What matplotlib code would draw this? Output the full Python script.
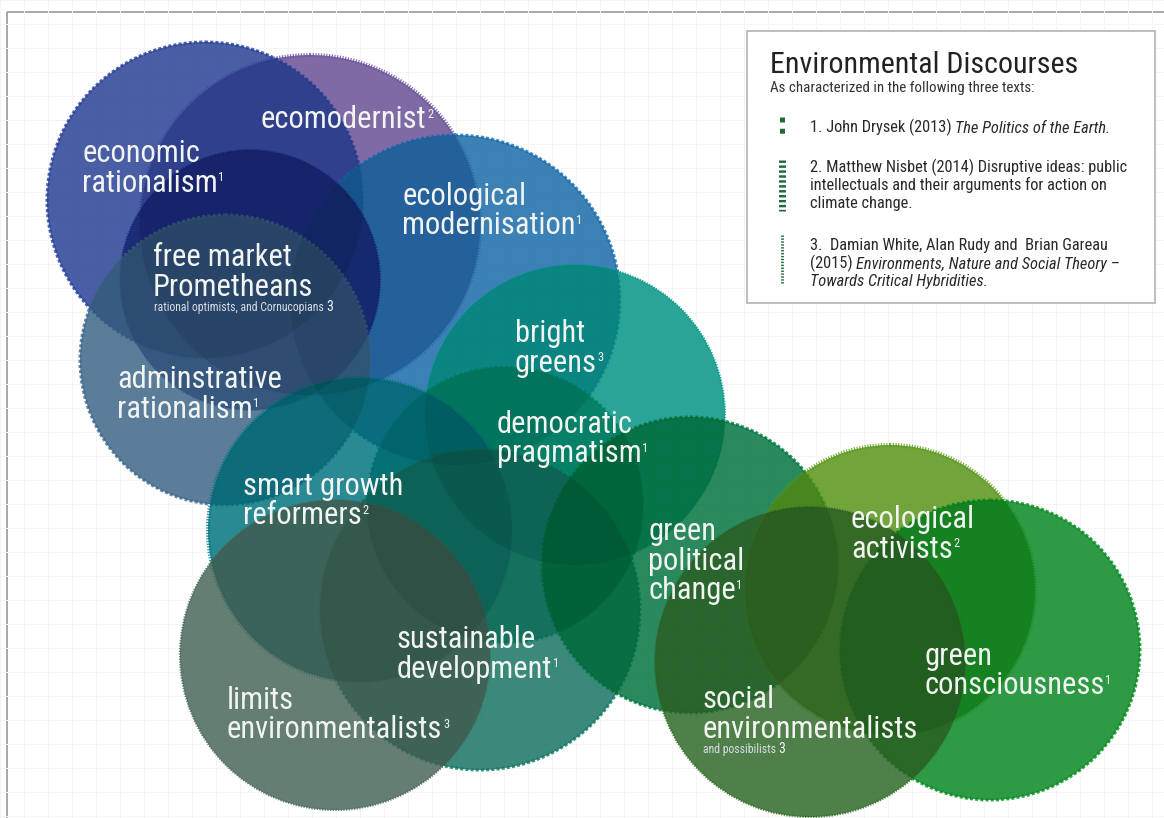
import numpy as np
import matplotlib
matplotlib.use("Agg")
import matplotlib.pyplot as plt
from matplotlib import font_manager
from matplotlib.patches import Circle, Rectangle
from matplotlib.colors import to_rgb

# discourses, drawn in this order (later ones sit on top)
discourses = ["ecomodernist", "economic rationalism", "ecological modernisation",
              "free market Prometheans", "adminstrative rationalism", "bright greens",
              "democratic pragmatism", "smart growth reformers", "sustainable development",
              "limits environmentalists", "green political change", "ecological activists",
              "green consciousness", "social environmentalists"]
source = [2, 1, 1, 3, 1, 3, 1, 2, 1, 3, 1, 2, 1, 3]
circle_x = [310, 205, 455, 250, 225, 575, 505, 360, 480, 335, 690, 890, 990, 810]
circle_y = [225, 200, 300, 280, 360, 415, 505, 530, 610, 655, 565, 590, 650, 662]
circle_r = [170, 158, 165, 130, 145, 150, 138, 152, 160, 155, 148, 145, 150, 155]

label_lines = [["ecomodernist"], ["economic", "rationalism"], ["ecological", "modernisation"],
               ["free market", "Prometheans"], ["adminstrative", "rationalism"], ["bright", "greens"],
               ["democratic", "pragmatism"], ["smart growth", "reformers"],
               ["sustainable", "development"], ["limits", "environmentalists"],
               ["green", "political", "change"], ["ecological", "activists"],
               ["green", "consciousness"], ["social", "environmentalists"]]
label_x = [261, 82, 402, 153, 117, 515, 497, 243, 397, 227, 648, 851, 924, 702]
label_y = [128, 162, 205, 266, 388, 342, 433, 495, 648, 709, 540, 528, 665, 708]
sub_notes = {3: "rational optimists, and Cornucopians", 13: "and possibilists"}

sources_text = [
    [("1. John Drysek (2013) ", "The Politics of the Earth.")],
    [("2. Matthew Nisbet (2014) Disruptive ideas: public", ""),
     ("intellectuals and their arguments for action on", ""),
     ("climate change.", "")],
    [("3.  Damian White, Alan Rudy and  Brian Gareau", ""),
     ("(2015) ", "Environments, Nature and Social Theory \u2013"),
     ("", "Towards Critical Hybridities.")],
]

# styles
colors = ["#7f6ba7", "#4a5ea6", "#3c82b6", "#3d4a8e", "#5b7d9b", "#1aa596", "#169a80",
          "#2a8a93", "#3a897b", "#657e73", "#238a5e", "#72a53c", "#2f9b45", "#50804a"]
edge_styles = {1: dict(lw=2.2, ls=(0, (1.0, 0.7))),
               2: dict(lw=3.0, ls=(0, (0.3, 0.35))),
               3: dict(lw=1.6, ls=(0, (0.6, 0.6)))}
fill_alpha = 0.82
shade_alpha = 0.08

avail = {f.name for f in font_manager.fontManager.ttflist}
font = "DejaVu Sans"
for cand in ["Roboto Condensed", "Liberation Sans Narrow", "Roboto"]:
    if cand in avail:
        font = cand
        break
plt.rcParams["font.family"] = [font, "DejaVu Sans"]


def base_color(hexc):
    t = np.array(to_rgb(hexc))
    c = (t / (1 - shade_alpha) - (1 - fill_alpha)) / fill_alpha
    return tuple(np.clip(c, 0, 1))


fig = plt.figure(figsize=(11.64, 8.18), dpi=100)
ax = fig.add_axes([0, 0, 1, 1])
ax.set_xlim(0, 1164)
ax.set_ylim(818, 0)
ax.set_xticks(np.arange(0, 1164, 24))
ax.set_yticks(np.arange(0, 818, 24))
ax.tick_params(length=0, labelbottom=False, labelleft=False)
ax.grid(color="#f5f5f5", lw=0.7)
for s in ax.spines.values():
    s.set_visible(False)

ax.add_patch(Rectangle((7, 12), 1300, 900, fill=False, ec="#a0a0a0", lw=1.3, zorder=1))

# filled circles with their serrated outline (pattern = source text)
for i in range(len(discourses)):
    fc = base_color(colors[i])
    st = edge_styles[source[i]]
    ax.add_patch(Circle((circle_x[i], circle_y[i]), circle_r[i], fc=fc,
                        ec="none", alpha=fill_alpha, zorder=2 + 0.01 * i))
    ax.add_patch(Circle((circle_x[i], circle_y[i]), circle_r[i], fill=False, ec=fc,
                        lw=st["lw"], ls=st["ls"], alpha=fill_alpha, zorder=2.005 + 0.01 * i))
# darkening pass so overlaps get deeper
for i in range(len(discourses)):
    ax.add_patch(Circle((circle_x[i], circle_y[i]), circle_r[i], fc="black",
                        ec="none", alpha=shade_alpha, zorder=3))

txt_col = "#f2f4f2"
for i, lines in enumerate(label_lines):
    last = None
    for k, line in enumerate(lines):
        last = ax.text(label_x[i], label_y[i] + k * 29.5, line, fontsize=22, color=txt_col,
                       ha="left", va="baseline", zorder=6)
    num = str(source[i])
    if i in sub_notes:
        note = ax.text(label_x[i] + 1, label_y[i] + len(lines) * 29.5 - 14, sub_notes[i],
                       fontsize=8.5, color="#d8dde8", ha="left", va="baseline", zorder=6)
        ax.annotate(num, xy=(1, 0), xycoords=note, xytext=(2, 0), textcoords="offset points",
                    fontsize=10, color=txt_col, ha="left", va="bottom", zorder=6)
    else:
        ax.annotate(num, xy=(1, 1), xycoords=last, xytext=(0.5, -2), textcoords="offset points",
                    fontsize=9, color=txt_col, ha="left", va="top", zorder=6)

# legend box
ax.add_patch(Rectangle((747, 31), 408, 272, fc="white", ec="#b3b3b3", lw=1.2, zorder=7))
ax.text(770, 73, "Environmental Discourses", fontsize=21.6, color="#222222", zorder=8)
ax.text(770, 92, "As characterized in the following three texts:", fontsize=10.8,
        color="#333333", zorder=8)

sym_col = "#1f6a3a"
ax.plot([782, 782], [117, 134], color=sym_col, lw=3.6, ls=(0, (1.0, 1.25)),
        solid_capstyle="butt", dash_capstyle="butt", zorder=8)
ax.plot([782, 782], [160, 211], color=sym_col, lw=5, ls=(0, (0.35, 0.36)),
        dash_capstyle="butt", zorder=8)
ax.plot([782, 782], [235, 284], color=sym_col, lw=2, ls=(0, (0.5, 0.55)),
        dash_capstyle="butt", zorder=8)

item_baselines = [[132], [172, 190, 208], [250, 268, 286]]
for lines, ys in zip(sources_text, item_baselines):
    for (plain, ital), y in zip(lines, ys):
        t = ax.text(810, y, plain if plain else "", fontsize=11.8, color="#2a2a2a",
                    va="baseline", zorder=8)
        if ital:
            if plain:
                ax.annotate(ital, xy=(1, 0), xycoords=t, fontsize=11.8, style="italic",
                            color="#2a2a2a", va="bottom", ha="left", zorder=8)
            else:
                ax.text(810, y, ital, fontsize=11.8, style="italic", color="#2a2a2a",
                        va="baseline", zorder=8)

fig.savefig("out.png", dpi=100)
